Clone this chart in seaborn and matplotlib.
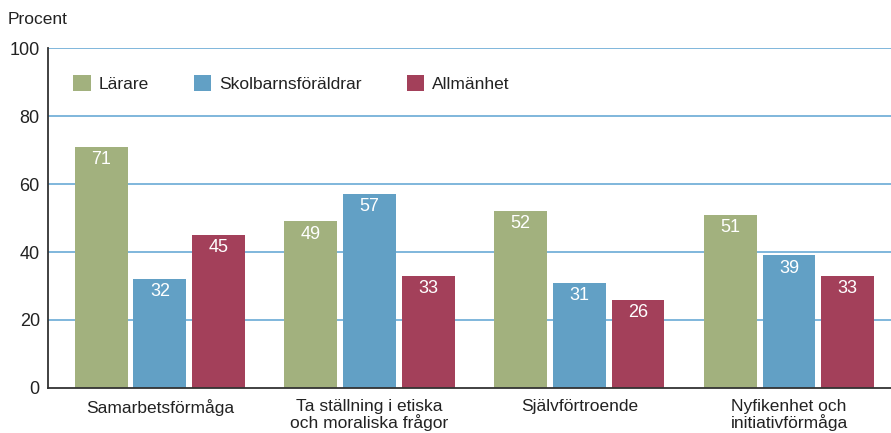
import matplotlib
matplotlib.use("Agg")
import matplotlib.pyplot as plt
import pandas as pd
import seaborn as sns
from matplotlib.patches import Patch

CATEGORIES = [
    "Samarbetsförmåga",
    "Ta ställning i etiska\noch moraliska frågor",
    "Självförtroende",
    "Nyfikenhet och\ninitiativförmåga",
]
GROUPS = ["Lärare", "Skolbarnsföräldrar", "Allmänhet"]
LARARE = [71, 49, 52, 51]
FORALDRAR = [32, 57, 31, 39]
ALLMANHET = [45, 33, 26, 33]
Y_TICKS = [0, 20, 40, 60, 80, 100]

COLORS = ["#a2b17e", "#62a0c5", "#a3405a"]
GRID_COLOR = "#6aaad6"
TEXT_COLOR = "#222222"


def build_frame():
    rows = []
    for group, values in zip(GROUPS, [LARARE, FORALDRAR, ALLMANHET]):
        for cat, val in zip(CATEGORIES, values):
            rows.append({"kategori": cat, "grupp": group, "procent": val})
    return pd.DataFrame(rows)


def main():
    sns.set_theme(style="white")
    plt.rcParams["font.family"] = ["Liberation Sans", "DejaVu Sans"]

    df = build_frame()

    fig = plt.figure(figsize=(8.91, 4.33), dpi=100)
    ax = fig.add_axes([0.054, 0.104, 0.946, 0.785])

    sns.barplot(
        data=df,
        x="kategori",
        y="procent",
        hue="grupp",
        order=CATEGORIES,
        hue_order=GROUPS,
        palette=COLORS,
        width=0.84,
        gap=0.1,
        saturation=1,
        errorbar=None,
        legend=False,
        linewidth=0,
        ax=ax,
    )

    # value labels inside the top of each bar
    for container in ax.containers:
        for bar in container:
            h = bar.get_height()
            ax.annotate(
                f"{h:.0f}",
                (bar.get_x() + bar.get_width() / 2, h),
                xytext=(0, -3),
                textcoords="offset points",
                ha="center",
                va="top",
                color="white",
                fontsize=13,
            )

    ax.set_ylim(0, 100)
    ax.set_xlim(-0.533, 3.486)
    ax.set_yticks(Y_TICKS)
    ax.set_yticklabels([str(t) for t in Y_TICKS], fontsize=13, color=TEXT_COLOR)
    ax.tick_params(axis="both", length=0, pad=6)
    ax.tick_params(axis="x", labelsize=12.5, labelcolor=TEXT_COLOR, pad=8)
    for lbl in ax.get_xticklabels():
        lbl.set_linespacing(1.0)
    ax.set_xlabel("")
    ax.set_ylabel("")

    for t in Y_TICKS[1:]:
        ax.axhline(t, color=GRID_COLOR, linewidth=1.2, zorder=0)

    for side in ["top", "right"]:
        ax.spines[side].set_visible(False)
    ax.spines["left"].set_color("#333333")
    ax.spines["left"].set_linewidth(1.3)
    ax.spines["bottom"].set_color("#333333")
    ax.spines["bottom"].set_linewidth(1.3)

    handles = [Patch(facecolor=c, edgecolor="none") for c in COLORS]
    ax.legend(
        handles,
        GROUPS,
        loc="upper left",
        bbox_to_anchor=(0.0297, 0.92),
        borderaxespad=0,
        borderpad=0,
        ncol=3,
        frameon=False,
        fontsize=12.5,
        handlelength=1.0,
        handleheight=1.0,
        handletextpad=0.45,
        columnspacing=2.6,
        labelcolor=TEXT_COLOR,
    )

    fig.text(0.009, 0.955, "Procent", fontsize=12.5, color=TEXT_COLOR, ha="left", va="center")

    fig.savefig("out.png", dpi=100)
    plt.close(fig)


if __name__ == "__main__":
    main()
